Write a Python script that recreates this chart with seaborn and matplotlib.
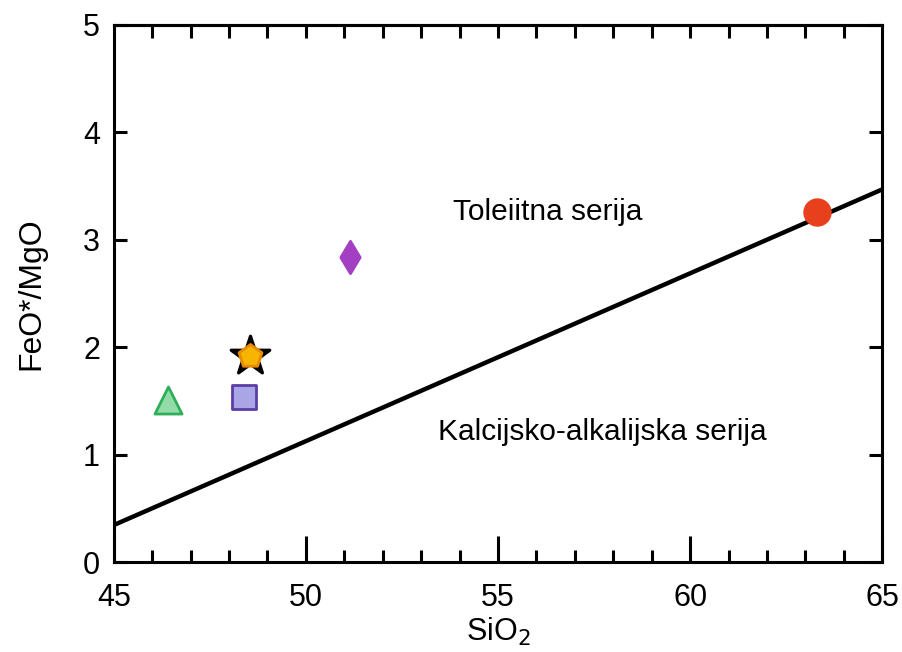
"""
FeO*/MgO vs SiO2 discrimination diagram (Miyashiro)
"""

import matplotlib
matplotlib.use("Agg")
import matplotlib.pyplot as plt
import seaborn as sns
import pandas as pd

# sample points
sio2 = [46.4, 48.4, 48.55, 51.15, 63.3]
feo_mgo = [1.51, 1.54, 1.92, 2.84, 3.26]
markers = ["^", "s", "p", "d", "o"]
fills = ["#93dba8", "#aaa6e6", "#f7b500", "#a33fc2", "#e8401c"]
edges = ["#2fae5a", "#5a3ea6", "#e88a00", "#a33fc2", "#e8401c"]

# dividing line endpoints
line_x = [45, 65]
line_y = [0.344, 3.468]

labels = ["Toleiitna serija", "Kalcijsko-alkalijska serija"]
label_x = [53.83, 53.45]
label_y = [3.26, 1.21]

sns.set_style("ticks")
plt.rcParams["font.family"] = ["Liberation Sans", "DejaVu Sans"]
plt.rcParams["text.color"] = "black"
plt.rcParams["axes.labelcolor"] = "black"
plt.rcParams["axes.edgecolor"] = "black"
plt.rcParams["xtick.color"] = "black"
plt.rcParams["ytick.color"] = "black"

fig = plt.figure(figsize=(9.03, 6.52), dpi=100)
ax = fig.add_axes([0.126, 0.138, 0.851, 0.824])

line_df = pd.DataFrame({"x": line_x, "y": line_y})
sns.lineplot(data=line_df, x="x", y="y", color="black", linewidth=3.2, ax=ax, zorder=2)

# black star sits behind the pentagon
sns.scatterplot(x=[sio2[2]], y=[feo_mgo[2]], marker="*", s=850, color="black",
                edgecolor="black", ax=ax, zorder=3)

sizes = [380, 300, 300, 270, 340]
for i in range(len(sio2)):
    sns.scatterplot(x=[sio2[i]], y=[feo_mgo[i]], marker=markers[i], s=sizes[i],
                    color=fills[i], edgecolor=edges[i], linewidth=2, ax=ax, zorder=4)

for t, x, y in zip(labels, label_x, label_y):
    ax.text(x, y, t, fontsize=21.5, va="center", ha="left")

ax.set_xlim(45, 65)
ax.set_ylim(0, 5)
ax.set_xticks(range(45, 66, 5))
ax.set_xticks(range(45, 66, 1), minor=True)
ax.set_yticks(range(0, 6, 1))

ax.tick_params(axis="x", which="major", direction="in", length=19, width=2.2,
               top=False, labelsize=22, pad=15)
ax.tick_params(axis="x", which="minor", direction="in", length=9, width=2.2, top=False)
ax.tick_params(axis="y", which="major", direction="in", length=9.5, width=2.2,
               right=True, labelsize=22, pad=10)
for s in ax.spines.values():
    s.set_linewidth(2.2)
    s.set_color("black")

# top edge: short ticks every unit, no labels
top = ax.secondary_xaxis("top")
top.set_xticks(range(46, 65, 1))
top.tick_params(direction="in", length=9, width=2.2, labeltop=False)
top.spines["top"].set_linewidth(2.2)

ax.set_xlabel("SiO$_2$", fontsize=22, labelpad=2)
ax.set_ylabel("FeO*/MgO", fontsize=23, labelpad=26)

fig.savefig("out.png", dpi=100, facecolor="white")
